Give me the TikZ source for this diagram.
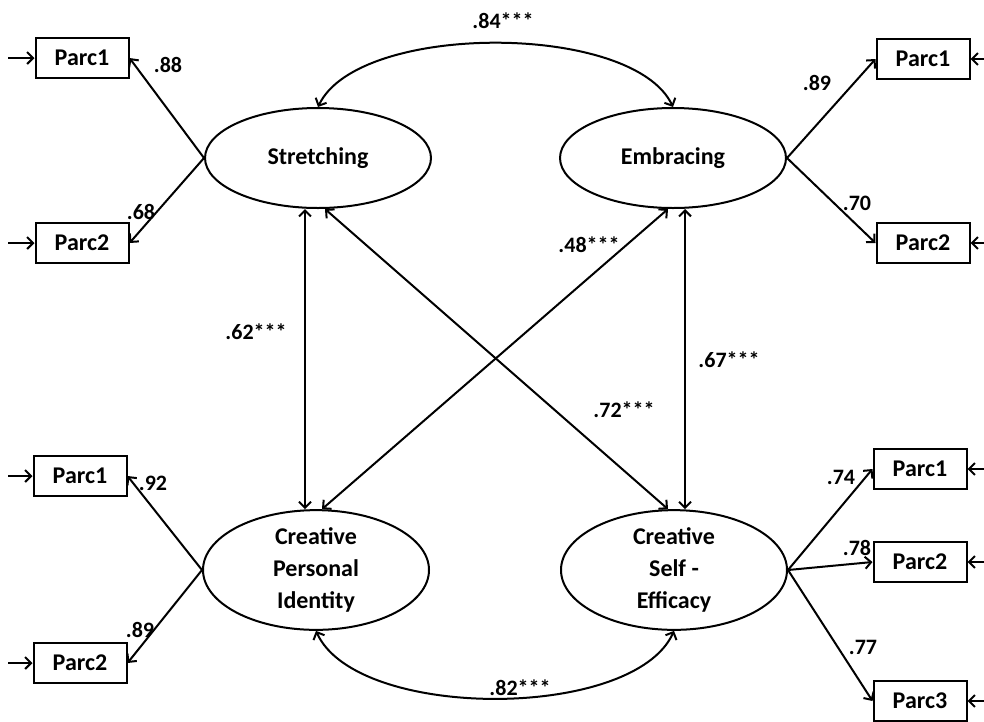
\documentclass[tikz,border=0pt]{standalone}
\usepackage{fontspec}
\setmainfont{Carlito}
\usetikzlibrary{shapes,arrows.meta}

\begin{document}
\begin{tikzpicture}[x=1pt, y=-1pt, line width=2pt,
      >={Straight Barb[length=6pt,width=12pt]},
      latent/.style={draw,ellipse,inner sep=0pt,minimum width=226pt,minimum height=100pt,
        align=center,font=\fontsize{24}{32}\selectfont\bfseries},
      obs/.style={draw,rectangle,inner sep=0pt,minimum width=93pt,minimum height=40pt,
        font=\fontsize{24}{26}\selectfont\bfseries},
      coef/.style={inner sep=1pt,font=\fontsize{22}{24}\selectfont\bfseries}]
    \useasboundingbox (0,0) rectangle (984,721);
    % latent factors
    \node [latent] (stretch) at (318,158) {Stretching};
    \node [latent] (embrace) at (673,158) {Embracing};
    \node [latent,minimum height=116pt] (cpi) at (316,570) {Creative\\Personal\\Identity};
    \node [latent,minimum height=116pt] (cse) at (674,570) {Creative\\Self -\\Efficacy};
    % parcels
    \node [obs] (sp1) at (82,58) {Parc1};
    \node [obs] (sp2) at (82,243) {Parc2};
    \node [obs] (ep1) at (923,59) {Parc1};
    \node [obs] (ep2) at (923,243) {Parc2};
    \node [obs] (ip1) at (80,476) {Parc1};
    \node [obs] (ip2) at (80,663) {Parc2};
    \node [obs] (fp1) at (920,469) {Parc1};
    \node [obs] (fp2) at (920,562) {Parc2};
    \node [obs] (fp3) at (920,701) {Parc3};
    % error terms
    \coordinate (sp1e) at (8,58);
    \coordinate (sp2e) at (8,243);
    \coordinate (ip1e) at (8,476);
    \coordinate (ip2e) at (8,663);
    \coordinate (ep1e) at (984,59);
    \coordinate (ep2e) at (984,243);
    \coordinate (fp1e) at (984,469);
    \coordinate (fp2e) at (984,562);
    \coordinate (fp3e) at (984,701);
    \foreach \p in {sp1,sp2,ip1,ip2}
      \draw [->] (\p e) -- (\p.west);
    \foreach \p in {ep1,ep2,fp1,fp2,fp3}
      \draw [->] (\p e) -- (\p.east);
    % loadings
    \draw [->] (stretch.west) -- (sp1.east);
    \draw [->] (stretch.west) -- (sp2.east);
    \draw [->] (embrace.east) -- (ep1.west);
    \draw [->] (embrace.east) -- (ep2.west);
    \draw [->] (cpi.west) -- (ip1.east);
    \draw [->] (cpi.west) -- (ip2.east);
    \draw [->] (cse.east) -- (fp1.west);
    \draw [->] (cse.east) -- (fp2.west);
    \draw [->] (cse.east) -- (fp3.west);
    % correlations
    \draw [<->] (stretch.north) .. controls +(40,-85) and +(-40,-85) .. (embrace.north);
    \draw [<->] (cpi.south) .. controls +(40,90) and +(-40,90) .. (cse.south);
    \draw [<->] ([xshift=-13pt]stretch.south) -- ([xshift=-11pt]cpi.north);
    \draw [<->] ([xshift=12pt]embrace.south) -- ([xshift=11pt]cse.north);
    \draw [<->] ([xshift=7pt]stretch.south) -- ([xshift=-6pt]cse.north);
    \draw [<->] ([xshift=-5pt]embrace.south) -- ([xshift=6pt]cpi.north);
    % coefficients
    \node [coef] (c84) at (503,21) {.84***};
    \node [coef] (c88) at (168,65) {.88};
    \node [coef] (c68) at (141,212) {.68};
    \node [coef] (c89a) at (817,83) {.89};
    \node [coef] (c70) at (857,203) {.70};
    \node [coef] (c62) at (256,332) {.62***};
    \node [coef] (c48) at (589,245) {.48***};
    \node [coef] (c67) at (729,360) {.67***};
    \node [coef] (c72) at (624,410) {.72***};
    \node [coef] (c92) at (153,483) {.92};
    \node [coef] (c89b) at (140,630) {.89};
    \node [coef] (c74) at (841,477) {.74};
    \node [coef] (c78) at (857,548) {.78};
    \node [coef] (c77) at (863,647) {.77};
    \node [coef] (c82) at (520,688) {.82***};
\end{tikzpicture}
\end{document}
